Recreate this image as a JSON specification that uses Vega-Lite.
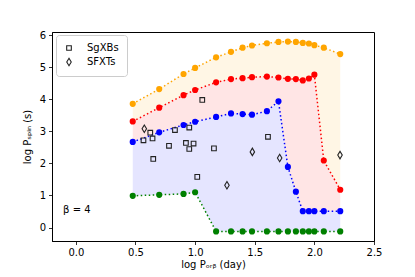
{
  "$schema": "https://vega.github.io/schema/vega-lite/v6.json",
  "width": 322,
  "height": 209,
  "autosize": {"type": "none"},
  "padding": {"left": 52, "top": 32, "right": 41, "bottom": 36},
  "background": "white",
  "config": {
    "font": "DejaVu Sans",
    "view": {"stroke": "black", "strokeWidth": 1},
    "axis": {
      "grid": false,
      "domainColor": "black",
      "domainWidth": 1,
      "tickColor": "black",
      "tickWidth": 0.8,
      "tickSize": 3.5,
      "labelPadding": 3,
      "labelFontSize": 10,
      "labelColor": "black",
      "labelFont": "DejaVu Sans",
      "labelOverlap": false,
      "labelFlush": false,
      "titleFont": "DejaVu Sans",
      "titleFontSize": 10,
      "titleFontWeight": "normal",
      "titleColor": "black"
    },
    "axisY": {"values": [0, 1, 2, 3, 4, 5, 6], "format": "d"},
    "legend": {
      "labelFont": "DejaVu Sans",
      "labelFontSize": 10,
      "labelColor": "black"
    }
  },
  "datasets": {
    "tracks": [
      {"x": 0.477, "orange": 3.86, "red": 3.31, "blue": 2.67, "green": 0.99},
      {"x": 0.699, "orange": 4.32, "red": 3.74, "blue": 2.97, "green": 1.02},
      {"x": 0.903, "orange": 4.79, "red": 4.13, "blue": 3.20, "green": 1.05},
      {"x": 1.0, "orange": 4.98, "red": 4.29, "blue": 3.30, "green": 1.10},
      {"x": 1.176, "orange": 5.31, "red": 4.53, "blue": 3.45, "green": -0.12},
      {"x": 1.301, "orange": 5.48, "red": 4.63, "blue": 3.56, "green": -0.12},
      {"x": 1.398, "orange": 5.61, "red": 4.66, "blue": 3.54, "green": -0.12},
      {"x": 1.477, "orange": 5.68, "red": 4.69, "blue": 3.52, "green": -0.12},
      {"x": 1.602, "orange": 5.75, "red": 4.71, "blue": 3.63, "green": -0.12},
      {"x": 1.699, "orange": 5.79, "red": 4.68, "blue": 3.94, "green": -0.12},
      {"x": 1.778, "orange": 5.80, "red": 4.64, "blue": 1.89, "green": -0.12},
      {"x": 1.845, "orange": 5.79, "red": 4.63, "blue": 1.12, "green": -0.12},
      {"x": 1.903, "orange": 5.76, "red": 4.59, "blue": 0.51, "green": -0.12},
      {"x": 1.954, "orange": 5.74, "red": 4.65, "blue": 0.51, "green": -0.12},
      {"x": 2.0, "orange": 5.69, "red": 4.77, "blue": 0.51, "green": -0.12},
      {"x": 2.079, "orange": 5.61, "red": 2.09, "blue": 0.51, "green": -0.12},
      {"x": 2.217, "orange": 5.41, "red": 1.18, "blue": 0.51, "green": -0.12}
    ],
    "sources": [
      {"type": "SgXBs", "porb": 0.567, "pspin": 2.72},
      {"type": "SgXBs", "porb": 0.624, "pspin": 2.96},
      {"type": "SgXBs", "porb": 0.643, "pspin": 2.78},
      {"type": "SgXBs", "porb": 0.649, "pspin": 2.14},
      {"type": "SgXBs", "porb": 0.781, "pspin": 2.55},
      {"type": "SgXBs", "porb": 0.831, "pspin": 3.04},
      {"type": "SgXBs", "porb": 0.923, "pspin": 2.64},
      {"type": "SgXBs", "porb": 0.951, "pspin": 3.12},
      {"type": "SgXBs", "porb": 0.951, "pspin": 2.45},
      {"type": "SgXBs", "porb": 0.987, "pspin": 2.62},
      {"type": "SgXBs", "porb": 1.018, "pspin": 1.58},
      {"type": "SgXBs", "porb": 1.06, "pspin": 3.98},
      {"type": "SgXBs", "porb": 1.158, "pspin": 2.47},
      {"type": "SgXBs", "porb": 1.611, "pspin": 2.83},
      {"type": "SFXTs", "porb": 0.574, "pspin": 3.08},
      {"type": "SFXTs", "porb": 1.267, "pspin": 1.32},
      {"type": "SFXTs", "porb": 1.48, "pspin": 2.36},
      {"type": "SFXTs", "porb": 1.709, "pspin": 2.17},
      {"type": "SFXTs", "porb": 2.215, "pspin": 2.26}
    ],
    "labels": [
      {"lx": -0.107, "ly": 0.54, "label": "β = 4"}
    ]
  },
  "encoding": {
    "x": {
      "field": "x", "type": "quantitative",
      "scale": {"domain": [-0.2, 2.5], "nice": false, "zero": false},
      "axis": {"values": [0, 0.5, 1, 1.5, 2, 2.5], "format": ".1f", "title": "log Pₒᵣᵦ (day)", "titlePadding": 2}
    }
  },
  "layer": [
    {
      "data": {"name": "tracks"},
      "mark": {"type": "area", "color": "orange", "opacity": 0.1},
      "encoding": {
        "y": {"field": "orange", "type": "quantitative",
          "scale": {"domain": [-0.42, 6.1], "nice": false, "zero": false},
          "axis": {"title": "log Pₛₚᵢₙ (s)", "titlePadding": 7}},
        "y2": {"field": "red"}
      }
    },
    {
      "data": {"name": "tracks"},
      "mark": {"type": "area", "color": "red", "opacity": 0.1},
      "encoding": {"y": {"field": "red", "type": "quantitative"}, "y2": {"field": "blue"}}
    },
    {
      "data": {"name": "tracks"},
      "mark": {"type": "area", "color": "blue", "opacity": 0.1},
      "encoding": {"y": {"field": "blue", "type": "quantitative"}, "y2": {"field": "green"}}
    },
    {
      "data": {"name": "tracks"},
      "mark": {"type": "line", "color": "orange", "strokeWidth": 1.5, "strokeDash": [1.5, 2.5],
        "point": {"filled": true, "size": 38, "color": "orange", "opacity": 1}},
      "encoding": {"y": {"field": "orange", "type": "quantitative"}}
    },
    {
      "data": {"name": "tracks"},
      "mark": {"type": "line", "color": "red", "strokeWidth": 1.5, "strokeDash": [1.5, 2.5],
        "point": {"filled": true, "size": 38, "color": "red", "opacity": 1}},
      "encoding": {"y": {"field": "red", "type": "quantitative"}}
    },
    {
      "data": {"name": "tracks"},
      "mark": {"type": "line", "color": "blue", "strokeWidth": 1.5, "strokeDash": [1.5, 2.5],
        "point": {"filled": true, "size": 38, "color": "blue", "opacity": 1}},
      "encoding": {"y": {"field": "blue", "type": "quantitative"}}
    },
    {
      "data": {"name": "tracks"},
      "mark": {"type": "line", "color": "green", "strokeWidth": 1.5, "strokeDash": [1.5, 2.5],
        "point": {"filled": true, "size": 38, "color": "green", "opacity": 1}},
      "encoding": {"y": {"field": "green", "type": "quantitative"}}
    },
    {
      "data": {"name": "sources"},
      "mark": {"type": "point", "filled": false, "stroke": "#222222", "strokeWidth": 1.1, "opacity": 1, "size": 56},
      "encoding": {
        "x": {"field": "porb", "type": "quantitative"},
        "y": {"field": "pspin", "type": "quantitative"},
        "shape": {
          "field": "type", "type": "nominal",
          "scale": {"domain": ["SgXBs", "SFXTs"], "range": ["M-0.62,-0.62H0.62V0.62H-0.62Z", "M0,-1L0.6,0L0,1L-0.6,0Z"]},
          "legend": {
            "title": null,
            "orient": "none",
            "legendX": 4,
            "legendY": 3,
            "padding": 8,
            "strokeColor": "#cccccc",
            "fillColor": "white",
            "cornerRadius": 3,
            "symbolSize": 56,
            "symbolStrokeColor": "#222222",
            "symbolStrokeWidth": 1.1,
            "symbolFillColor": "transparent",
            "labelOffset": 13,
            "rowPadding": 3
          }
        }
      }
    },
    {
      "data": {"name": "labels"},
      "mark": {"type": "text", "align": "left", "baseline": "middle", "fontSize": 10, "font": "DejaVu Sans", "color": "black"},
      "encoding": {
        "x": {"field": "lx", "type": "quantitative"},
        "y": {"field": "ly", "type": "quantitative"},
        "text": {"field": "label"}
      }
    }
  ]
}
